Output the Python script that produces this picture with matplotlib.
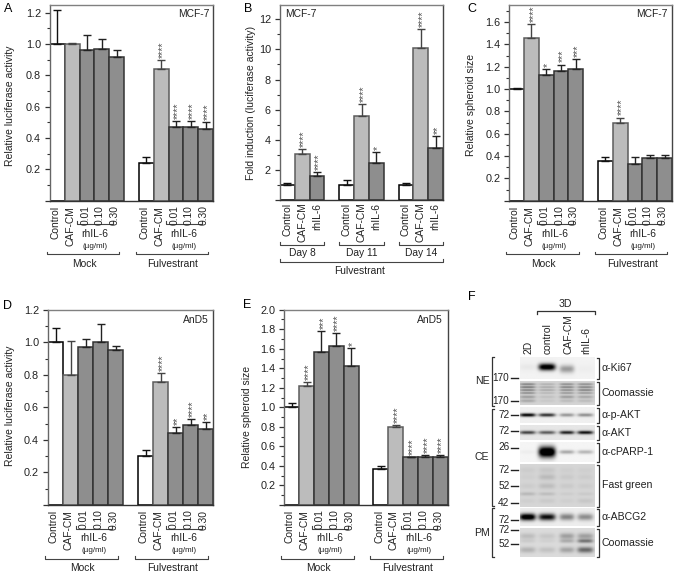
"""
Bar charts (A-E) and western blot panel (F), luciferase activity and spheroid size
"""

import numpy as np
import matplotlib
matplotlib.use('Agg')
import matplotlib.pyplot as plt

plt.rcParams['font.family'] = ['Liberation Sans', 'DejaVu Sans']
plt.rcParams['font.size'] = 7.5

W, H = 677, 574
TXT = '#222222'

# Panel A
a_vals = [1.0, 1.0, 0.96, 0.97, 0.92, 0.24, 0.84, 0.47, 0.47, 0.455]
a_tops = [1.22, 1.01, 1.06, 1.03, 0.96, 0.28, 0.90, 0.51, 0.51, 0.50]
a_stars = [0, 0, 0, 0, 0, 0, 4, 4, 4, 4]
a_yticks = [0.2, 0.4, 0.6, 0.8, 1.0, 1.2]

# Panel B
b_vals = [1.0, 3.05, 1.6, 1.0, 5.55, 2.45, 1.0, 10.1, 3.45]
b_tops = [1.1, 3.4, 1.85, 1.3, 6.35, 3.2, 1.1, 11.35, 4.25]
b_stars = [0, 4, 4, 0, 4, 1, 0, 4, 2]
b_yticks = [2, 4, 6, 8, 10, 12]

# Panel C
c_vals = [1.0, 1.46, 1.13, 1.165, 1.18, 0.36, 0.70, 0.33, 0.38, 0.38]
c_tops = [1.01, 1.58, 1.18, 1.22, 1.27, 0.39, 0.745, 0.39, 0.405, 0.405]
c_stars = [0, 4, 1, 3, 3, 0, 4, 0, 0, 0]
c_yticks = [0.2, 0.4, 0.6, 0.8, 1.0, 1.2, 1.4, 1.6]

# Panel D
d_vals = [1.0, 0.80, 0.97, 1.0, 0.95, 0.30, 0.755, 0.44, 0.49, 0.47]
d_tops = [1.09, 1.01, 1.02, 1.11, 0.98, 0.34, 0.81, 0.48, 0.53, 0.51]
d_stars = [0, 0, 0, 0, 0, 0, 4, 2, 4, 2]
d_yticks = [0.2, 0.4, 0.6, 0.8, 1.0, 1.2]

# Panel E
e_vals = [1.0, 1.215, 1.57, 1.63, 1.42, 0.37, 0.80, 0.49, 0.495, 0.495]
e_tops = [1.04, 1.26, 1.78, 1.765, 1.605, 0.395, 0.82, 0.495, 0.51, 0.51]
e_stars = [0, 4, 3, 4, 1, 0, 4, 4, 4, 4]
e_yticks = [0.2, 0.4, 0.6, 0.8, 1.0, 1.2, 1.4, 1.6, 1.8, 2.0]

# bar labels
five_pos = [0, 1, 2, 3, 4, 6, 7, 8, 9, 10]
five_labels = ['Control', 'CAF-CM', '0.01', '0.10', '0.30'] * 2
five_kinds = ['ctrl', 'caf', 'il6', 'il6', 'il6'] * 2
three_pos = [0, 1, 2, 4, 5, 6, 8, 9, 10]
three_labels = ['Control', 'CAF-CM', 'rhIL-6'] * 3
three_kinds = ['ctrl', 'caf', 'il6'] * 3
days = ['Day 8', 'Day 11', 'Day 14']

# Panel F, lane rows are (y, half height, darkness per lane 2D/control/CAF-CM/rhIL-6)
lane_x = [527.5, 547, 567, 585.5]
lane_names = ['2D', 'control', 'CAF-CM', 'rhIL-6']
lane_w = [8, 8.5, 7.5, 8]
ki67_rows = [(367, 3.5, [0.04, 1.1, 0.0, 0.0]), (369, 4.0, [0.0, 0.0, 0.35, 0.02])]
coom1_rows = [(384, 1.0, [0.35, 0.15, 0.3, 0.3]), (387, 1.0, [0.4, 0.18, 0.35, 0.35]),
              (390, 1.0, [0.35, 0.18, 0.3, 0.35]), (393, 1.0, [0.3, 0.12, 0.25, 0.25]),
              (397, 1.5, [0.22, 0.08, 0.22, 0.18]), (401, 1.5, [0.18, 0.05, 0.1, 0.1])]
pakt_rows = [(415, 1.8, [0.95, 0.75, 0.35, 0.38])]
akt_rows = [(432.5, 1.8, [0.65, 0.55, 0.78, 0.85])]
parp_rows = [(452, 5.5, [0.0, 1.3, 0.0, 0.0]), (452, 2.0, [0.03, 0.0, 0.3, 0.25])]
green_rows = [(470, 3.0, [0.04, 0.06, 0.03, 0.03]), (477, 3.0, [0.03, 0.11, 0.05, 0.04]),
              (486, 3.0, [0.04, 0.1, 0.05, 0.04]), (494, 1.8, [0.12, 0.1, 0.04, 0.05]),
              (501, 2.5, [0.03, 0.05, 0.03, 0.06])]
abcg_rows = [(517, 3.5, [1.1, 0.9, 0.42, 0.38])]
coom2_rows = [(536, 3.0, [0.12, 0.08, 0.24, 0.24]), (541, 2.0, [0.06, 0.04, 0.18, 0.4]),
              (550, 3.0, [0.16, 0.1, 0.22, 0.46])]
strip_y = [(357, 379), (381, 405), (407, 423), (425, 440), (442, 462), (464, 507), (508, 526), (528, 557)]
strip_bg = [0.95, 0.83, 0.94, 0.9, 0.96, 0.84, 0.93, 0.86]
strip_rows = [ki67_rows, coom1_rows, pakt_rows, akt_rows, parp_rows, green_rows, abcg_rows, coom2_rows]
strip_names = ['α-Ki67', 'Coomassie', 'α-p-AKT', 'α-AKT', 'α-cPARP-1', 'Fast green', 'α-ABCG2', 'Coomassie']
mw_labels = ['170', '170', '72', '72', '26', '72', '52', '42', '72', '72', '52']
mw_y = [378, 400.5, 415, 431, 447.5, 470, 486, 503, 520, 530, 544]
fraction_names = ['NE', 'CE', 'PM']
fraction_y = [(357, 405.5), (409, 505.5), (508, 557)]

STYLE = {'ctrl': ('white', 'black', '#111111'),
         'caf': ('#bcbcbc', '#5c5c5c', '#444444'),
         'il6': ('#8e8e8e', '#333333', '#222222')}


def make_axes(box, ymax, yticks, minor):
    l, t, r, b = box
    ax = fig.add_axes([l / W, 1 - b / H, (r - l) / W, (b - t) / H])
    ax.set_xlim(-0.5, 10.5)
    ax.set_ylim(0, ymax)
    ax.set_xticks([])
    ax.set_yticks([0] + yticks)
    ax.set_yticklabels([''] + [f'{v:.1f}' if ymax < 5 else f'{v}' for v in yticks], color=TXT)
    ax.set_yticks(np.arange(0, ymax, minor), minor=True)
    ax.tick_params(axis='y', which='major', length=3.5, width=0.9, pad=3, labelsize=7.8, color='#333333')
    ax.tick_params(axis='y', which='minor', length=2, width=0.8, color='#333333')
    ax.spines['top'].set_color('#808080')
    ax.spines['right'].set_color('#444444')
    ax.spines['left'].set_color('#666666')
    ax.spines['bottom'].set_color('#333333')
    for s in ax.spines.values():
        s.set_linewidth(1.0)
    return ax


def draw_bars(ax, pos, vals, tops, stars, kinds):
    for x, v, top, n, k in zip(pos, vals, tops, stars, kinds):
        fc, ec, erc = STYLE[k]
        ax.bar(x, v, width=1.0, color=fc, edgecolor=ec, linewidth=1.1, zorder=2)
        ax.errorbar(x, v, yerr=[[0], [top - v]], color=erc, capsize=2.6, capthick=1.0, elinewidth=1.0, zorder=3)
        if n:
            ax.annotate('*' * n, (x, top), xytext=(1.5, 1.5), textcoords='offset points', rotation=90,
                        ha='center', va='bottom', fontsize=7.8, color='#555555', annotation_clip=False)


def under(ax, x, dy, s, **kw):
    # text below the axes, x in data units, dy in pixels under the axis line
    h = ax.get_window_extent().height
    kw.setdefault('color', TXT)
    ax.text(x, -dy / h, s, transform=ax.get_xaxis_transform(), clip_on=False, **kw)


def bracket_under(ax, x0, x1, dy, tick=2.5):
    h = ax.get_window_extent().height
    ax.plot([x0, x0, x1, x1], [-(dy - tick) / h, -dy / h, -dy / h, -(dy - tick) / h], color='#444444', lw=0.8,
            transform=ax.get_xaxis_transform(), clip_on=False)


def five_under(ax):
    for x, s in zip(five_pos, five_labels):
        under(ax, x - 0.12, 5 if s[0] != '0' else 4.5, s, rotation=90, ha='center', va='top', fontsize=7.4)
    for off, name in zip([0, 6], ['Mock', 'Fulvestrant']):
        bracket_under(ax, off + 1.34, off + 3.78, 23.5, tick=3)
        under(ax, off + 2.55, 33, 'rhIL-6', ha='center', va='center', fontsize=7.4)
        under(ax, off + 2.55, 46, '(µg/ml)', ha='center', va='center', fontsize=5.8)
        bracket_under(ax, off - 0.72, off + 4.18, 53.5)
        under(ax, off + 1.8, 63, name, ha='center', va='center', fontsize=7.4)


fig = plt.figure(figsize=(W / 100, H / 100), dpi=100)

ax_a = make_axes((50, 5, 213, 200.7), 1.25, a_yticks, 0.1)
draw_bars(ax_a, five_pos, a_vals, a_tops, a_stars, five_kinds)
five_under(ax_a)
ax_a.text(0.98, 0.955, 'MCF-7', transform=ax_a.transAxes, ha='right', va='center', fontsize=7.4, color=TXT)

ax_b = make_axes((280, 5, 443, 200), 12.95, b_yticks, 1)
draw_bars(ax_b, three_pos, b_vals, b_tops, b_stars, three_kinds)
for x, s in zip(three_pos, three_labels):
    under(ax_b, x, 2.5, s, rotation=90, ha='center', va='top', fontsize=7.4)
for off, day in zip([0, 4, 8], days):
    bracket_under(ax_b, off - 0.5, off + 2.5, 44.5)
    under(ax_b, off + 1, 53, day, ha='center', va='center', fontsize=7.4)
bracket_under(ax_b, -0.5, 10.5, 61.5)
under(ax_b, 4.9, 71, 'Fulvestrant', ha='center', va='center', fontsize=7.4)
ax_b.text(0.03, 0.955, 'MCF-7', transform=ax_b.transAxes, ha='left', va='center', fontsize=7.4, color=TXT)

ax_c = make_axes((509.3, 5, 672, 200.7), 1.753, c_yticks, 0.1)
draw_bars(ax_c, five_pos, c_vals, c_tops, c_stars, five_kinds)
five_under(ax_c)
ax_c.text(0.97, 0.955, 'MCF-7', transform=ax_c.transAxes, ha='right', va='center', fontsize=7.4, color=TXT)

ax_d = make_axes((48, 309.7, 213.3, 505), 1.2, d_yticks, 0.1)
draw_bars(ax_d, five_pos, d_vals, d_tops, d_stars, five_kinds)
five_under(ax_d)
ax_d.text(0.97, 0.945, 'AnD5', transform=ax_d.transAxes, ha='right', va='center', fontsize=7.4, color=TXT)

ax_e = make_axes((284.3, 309.7, 447.7, 505), 2.0, e_yticks, 0.1)
draw_bars(ax_e, five_pos, e_vals, e_tops, e_stars, five_kinds)
five_under(ax_e)
ax_e.text(0.97, 0.945, 'AnD5', transform=ax_e.transAxes, ha='right', va='center', fontsize=7.4, color=TXT)

# overlay in pixel coordinates for panel letters, y labels and the blot panel
ov = fig.add_axes([0, 0, 1, 1], zorder=5)
ov.patch.set_alpha(0)
ov.axis('off')

for s, x, y in zip('ABCDEF', [8, 248, 472, 7, 247, 472], [9, 9, 9, 306, 305, 297]):
    ov.text(x, y, s, ha='center', va='center', fontsize=9, color='black')

for s, x, y in [('Relative luciferase activity', 10.5, 106), ('Fold induction (luciferase activity)', 251.5, 103),
                ('Relative spheroid size', 471, 105), ('Relative luciferase activity', 10.5, 406),
                ('Relative spheroid size', 246.5, 417)]:
    ov.text(x, y, s, rotation=90, ha='center', va='center', fontsize=7.5, color=TXT)

xx = np.arange(520, 595.5, 0.5)
for (y0, y1), bg, rows in zip(strip_y, strip_bg, strip_rows):
    yy = np.arange(y0, y1 + 0.25, 0.5)
    img = np.full((len(yy), len(xx)), bg, dtype=float)
    for yc, hh, dark in rows:
        for lx, lw_, d in zip(lane_x, lane_w, dark):
            bx = np.exp(-np.abs((xx - lx) / lw_) ** 4)
            by = np.exp(-((yy - yc) / hh) ** 2)
            img -= d * np.outer(by, bx)
    ov.imshow(np.clip(img, 0, 1), cmap='gray', vmin=0, vmax=1, extent=(520, 595, y1, y0), aspect='auto',
              interpolation='bilinear')

for (y0, y1), name in zip(strip_y, strip_names):
    ov.plot([597, 599, 599, 597], [y0 + 0.5, y0 + 0.5, y1 - 0.5, y1 - 0.5], color='#333333', lw=0.9)
    ov.text(601.5, (y0 + y1) / 2, name, ha='left', va='center', fontsize=7.6, color=TXT)

for s, y in zip(mw_labels, mw_y):
    ov.text(509.5, y, s, ha='right', va='center', fontsize=7.2, color=TXT)
    ov.plot([510.5, 518], [y, y], color='#222222', lw=1.0)

for (y0, y1), name in zip(fraction_y, fraction_names):
    ov.plot([494, 491.5, 491.5, 494], [y0, y0, y1, y1], color='#333333', lw=0.9)
    ov.text(482, (y0 + y1) / 2, name, ha='center', va='center', fontsize=7.6, color=TXT)

for x, s in zip(lane_x, lane_names):
    ov.text(x + 1, 353.5, s, rotation=90, ha='center', va='bottom', fontsize=7.4, color=TXT)
ov.plot([537, 537, 594.5, 594.5], [314, 311, 311, 314], color='#333333', lw=0.9)
ov.text(565, 304, '3D', ha='center', va='center', fontsize=7.6, color=TXT)

ov.set_xlim(0, W)
ov.set_ylim(H, 0)

plt.savefig('out.png', dpi=100)
plt.close()
